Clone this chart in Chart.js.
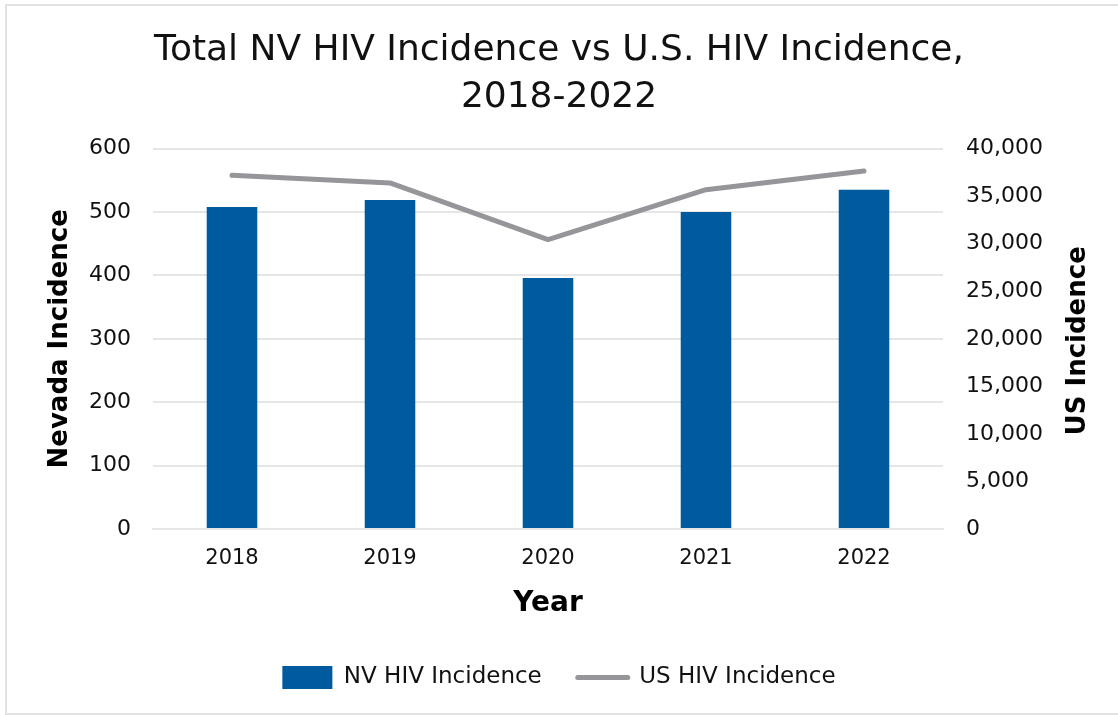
<!DOCTYPE html>
<html>
<head>
<meta charset="utf-8">
<script src="https://cdn.jsdelivr.net/npm/chart.js@4.4.1/dist/chart.umd.min.js"></script>
<style>
  html, body { margin: 0; padding: 0; background: #fff; overflow: hidden; }
  #wrap { width: 1118px; height: 715px; overflow: hidden; }
  canvas { display: block; }
</style>
</head>
<body>
<div id="wrap"><canvas id="c" width="1118" height="715"></canvas></div>
<script>
const titleLines = ['Total NV HIV Incidence vs U.S. HIV Incidence,', '2018-2022'];
const years = ['2018', '2019', '2020', '2021', '2022'];
const nvIncidence = [508, 519, 396, 500, 535];
const usIncidence = [37190, 36390, 30420, 35680, 37650];
const nvLabel = 'NV HIV Incidence';
const usLabel = 'US HIV Incidence';
const leftAxisTitle = 'Nevada Incidence';
const rightAxisTitle = 'US Incidence';
const xAxisTitle = 'Year';

const FONT = "'DejaVu Sans', sans-serif";
const BLUE = '#005A9E';
const GREY = '#96969A';
const GRID = '#E6E6E6';
const TXT = '#111111';

const framePlugin = {
  id: 'frame',
  beforeDraw(chart) {
    const ctx = chart.ctx;
    ctx.save();
    ctx.fillStyle = '#fff';
    ctx.fillRect(0, 0, chart.width, chart.height);
    ctx.strokeStyle = '#E2E2E2';
    ctx.lineWidth = 2;
    ctx.beginPath();
    ctx.moveTo(chart.width + 5, 5);
    ctx.lineTo(6, 5);
    ctx.lineTo(6, 714);
    ctx.lineTo(chart.width + 5, 714);
    ctx.stroke();
    ctx.restore();
  }
};

const rightTitlePlugin = {
  id: 'rightTitle',
  afterDraw(chart) {
    const ctx = chart.ctx;
    const area = chart.chartArea;
    ctx.save();
    ctx.translate(1078, (area.top + area.bottom) / 2 + 2);
    ctx.rotate(-Math.PI / 2);
    ctx.font = "bold 26px " + FONT;
    ctx.fillStyle = '#000';
    ctx.textAlign = 'center';
    ctx.textBaseline = 'middle';
    ctx.fillText(rightAxisTitle, 0, 0);
    ctx.restore();
  }
};

new Chart(document.getElementById('c'), {
  data: {
    labels: years,
    datasets: [
      {
        type: 'line',
        label: usLabel,
        data: usIncidence,
        yAxisID: 'y1',
        borderColor: GREY,
        backgroundColor: GREY,
        borderWidth: 5,
        borderCapStyle: 'round',
        borderJoinStyle: 'round',
        pointRadius: 0,
        pointHoverRadius: 0,
        tension: 0,
        order: 0
      },
      {
        type: 'bar',
        label: nvLabel,
        data: nvIncidence,
        yAxisID: 'y',
        backgroundColor: BLUE,
        borderWidth: 0,
        categoryPercentage: 1,
        barPercentage: 0.32,
        order: 1
      }
    ]
  },
  options: {
    responsive: false,
    animation: false,
    devicePixelRatio: 1,
    layout: { padding: { left: 0, right: 0, top: 0, bottom: 16 } },
    plugins: {
      title: {
        display: true,
        text: titleLines,
        color: TXT,
        font: { family: FONT, size: 36, weight: 'normal', lineHeight: 1.3 },
        padding: { top: 27, bottom: 28 }
      },
      legend: {
        position: 'bottom',
        reverse: true,
        labels: {
          color: TXT,
          font: { family: FONT, size: 23 },
          usePointStyle: true,
          pointStyleWidth: 50,
          padding: 36,
          generateLabels(chart) {
            const items = Chart.defaults.plugins.legend.labels.generateLabels(chart);
            items.forEach(it => {
              const ds = chart.data.datasets[it.datasetIndex];
              if (ds.type === 'line') {
                it.pointStyle = 'line';
                it.lineWidth = 5;
                it.lineCap = 'round';
                it.strokeStyle = GREY;
              } else {
                it.pointStyle = 'rect';
                it.lineWidth = 0;
                it.fillStyle = BLUE;
                it.strokeStyle = BLUE;
              }
            });
            return items;
          }
        }
      },
      tooltip: { enabled: false }
    },
    scales: {
      x: {
        grid: { display: false },
        border: { display: true, color: GRID, width: 2 },
        ticks: { color: TXT, font: { family: FONT, size: 21 }, padding: 9 },
        title: {
          display: true,
          text: xAxisTitle,
          color: '#000',
          font: { family: FONT, size: 28, weight: 'bold' },
          padding: { top: 6, bottom: 9 }
        },
        afterFit(scale) { scale.height = 101; }
      },
      y: {
        position: 'left',
        min: 0,
        max: 600,
        ticks: { stepSize: 100, color: TXT, font: { family: FONT, size: 22 }, padding: 22 },
        grid: { color: GRID, lineWidth: 2, drawTicks: false },
        border: { display: false },
        title: {
          display: true,
          text: leftAxisTitle,
          color: '#000',
          font: { family: FONT, size: 26, weight: 'bold' },
          padding: { top: 45, bottom: 0 }
        },
        afterFit(scale) { scale.width = 153; }
      },
      y1: {
        position: 'right',
        min: 0,
        max: 40000,
        ticks: {
          stepSize: 5000,
          color: TXT,
          font: { family: FONT, size: 22 },
          padding: 23,
          callback: v => v.toLocaleString('en-US')
        },
        grid: { display: false, drawTicks: false },
        border: { display: false },
        afterFit(scale) { scale.width = 175; }
      }
    }
  },
  plugins: [framePlugin, rightTitlePlugin]
});
</script>
</body>
</html>
